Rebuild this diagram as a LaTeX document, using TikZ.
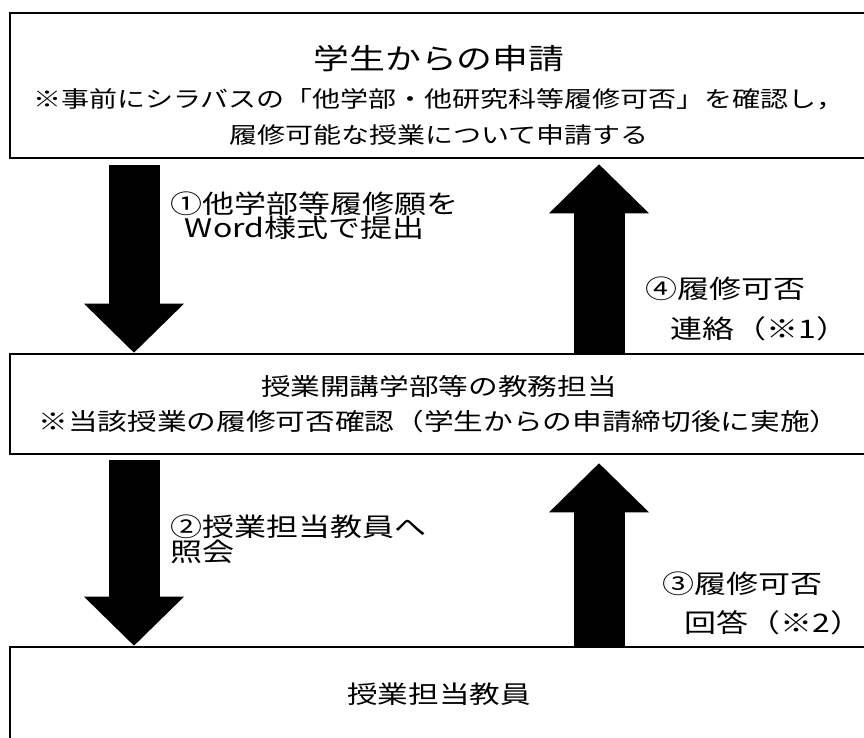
\documentclass[tikz,border=0pt]{standalone}
\usepackage{fontspec}
\newfontfamily\jpfont[FakeStretch=1.25]{Noto Sans CJK JP}
\usetikzlibrary{arrows.meta,calc}
\setlength{\lineskiplimit}{-30pt}

\tikzstyle{box}=[draw=black,line width=2pt,fill=white,inner sep=0pt,align=center,minimum width=643.5pt]
\tikzstyle{note}=[inner sep=0pt,anchor=north west,align=left]
\tikzstyle{bigarrow}=[line width=38.25pt,-{Triangle[length=36.75pt,width=75pt,line width=0pt]}]

\begin{document}
\begin{tikzpicture}[x=0.75pt,y=-0.75pt,font=\jpfont]
		\useasboundingbox (0,0) rectangle (864,738);

		\node (top) at (439,85.5) [box,minimum height=108.75pt,font=\jpfont\fontsize{16.8}{27}\selectfont]
			{\fontsize{21.5}{27}\selectfont\rule{0pt}{33pt}学生からの申請\\[2pt]
			※事前にシラバスの「他学部・他研究科等履修可否」を確認し，\\
			履修可能な授業について申請する};
		\node (mid) at (439,404) [box,minimum height=75pt,font=\jpfont\fontsize{17.8}{26.25}\selectfont]
			{授業開講学部等の教務担当\\
			※当該授業の履修可否確認（学生からの申請締切後に実施）};
		\node (bot) at (439,694) [box,minimum height=70.5pt,font=\jpfont\fontsize{18.4}{24}\selectfont]
			{授業担当教員};

		\coordinate (lc) at (134,0);
		\coordinate (rc) at (599,0);

		\draw[bigarrow] ($(top.south -| lc)+(0,6)$) -- (mid.north -| lc);
		\draw[bigarrow] (mid.north -| rc) -- ($(top.south -| rc)+(0,5)$);
		\draw[bigarrow] ($(mid.south -| lc)+(0,5)$) -- (bot.north -| lc);
		\draw[bigarrow] (bot.north -| rc) -- ($(mid.south -| rc)+(0,8)$);

		\node (n1) at (170,191.5) [note,font=\jpfont\fontsize{19.2}{18.4}\selectfont]
			{①他学部等履修願を\\ \hspace*{11pt}Word様式で提出};
		\node (n4) at (645,277) [note,font=\jpfont\fontsize{19.2}{30}\selectfont]
			{④履修可否\\ \hspace*{18.75pt}連絡（※1）};
		\node (n2) at (170,515) [note,font=\jpfont\fontsize{19.2}{18.75}\selectfont]
			{②授業担当教員へ\\ 照会};
		\node (n3) at (662,572) [note,font=\jpfont\fontsize{19.2}{29.25}\selectfont]
			{③履修可否\\ \hspace*{16.5pt}回答（※2）};
	\end{tikzpicture}
\end{document}
